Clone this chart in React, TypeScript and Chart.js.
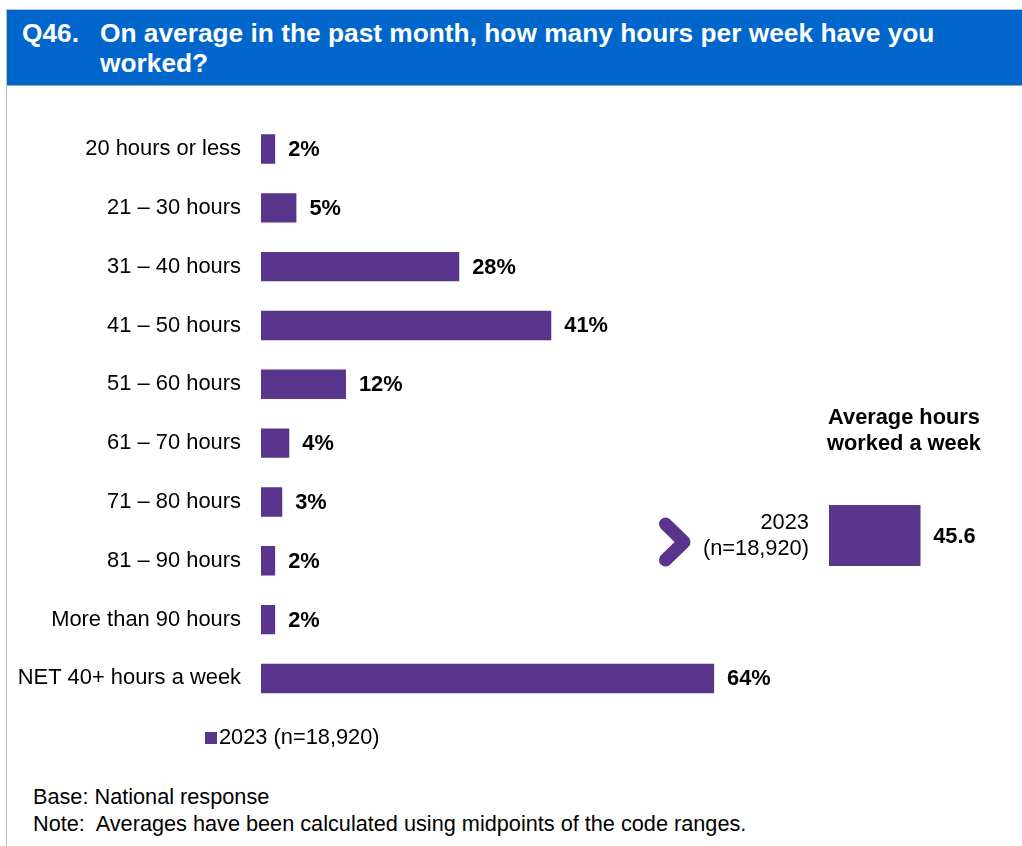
import React, { useEffect, useRef } from "react";
import { Chart, registerables } from "chart.js";

Chart.register(...registerables);

const categories = [
  "20 hours or less",
  "21 – 30 hours",
  "31 – 40 hours",
  "41 – 50 hours",
  "51 – 60 hours",
  "61 – 70 hours",
  "71 – 80 hours",
  "81 – 90 hours",
  "More than 90 hours",
  "NET 40+ hours a week",
];
const values2023 = [2, 5, 28, 41, 12, 4, 3, 2, 2, 64];
const seriesLabel = "2023 (n=18,920)";
const avgCategories = ["2023"];
const avgSampleLabel = "(n=18,920)";
const avgHours = [45.6];

const titleQ = "Q46.";
const titleLines = ["On average in the past month, how many hours per week have you", "worked?"];
const avgTitle = ["Average hours", "worked a week"];
const footerLines = ["Base: National response", "Note:  Averages have been calculated using midpoints of the code ranges."];

const PURPLE = "#58358A";
const FONT = '"Liberation Sans", Arial, Helvetica, sans-serif';

const valueLabelPlugin = (fmt: (v: number) => string) => ({
  id: "valueLabels",
  afterDatasetsDraw(chart: any) {
    const ctx = chart.ctx;
    ctx.save();
    ctx.font = `bold 21.8px ${FONT}`;
    ctx.fillStyle = "#000";
    ctx.textAlign = "left";
    ctx.textBaseline = "middle";
    chart.data.datasets.forEach((ds: any, di: number) => {
      const meta = chart.getDatasetMeta(di);
      meta.data.forEach((bar: any, i: number) => {
        ctx.fillText(fmt(ds.data[i]), bar.x + 13, bar.y + 1);
      });
    });
    ctx.restore();
  },
});

export default function App() {
  const mainRef = useRef<HTMLCanvasElement>(null);
  const avgRef = useRef<HTMLCanvasElement>(null);

  useEffect(() => {
    const main = new Chart(mainRef.current!, {
      type: "bar",
      data: {
        labels: categories,
        datasets: [
          {
            label: seriesLabel,
            data: values2023,
            backgroundColor: PURPLE,
            borderWidth: 0,
            categoryPercentage: 1,
            barPercentage: 0.5,
          },
        ],
      },
      options: {
        indexAxis: "y",
        responsive: false,
        animation: false,
        devicePixelRatio: 1,
        layout: { padding: { top: 119.6, bottom: 0, right: 53, left: 0 } },
        plugins: { legend: { display: false }, tooltip: { enabled: false } },
        scales: {
          x: {
            display: false,
            min: 0,
            max: 100,
          },
          y: {
            grid: { display: false, drawTicks: false },
            border: { display: false },
            ticks: {
              color: "#000",
              padding: 20,
              font: { family: FONT, size: 21.9 },
            },
            afterFit(scale: any) {
              scale.width = 261;
            },
          },
        },
      },
      plugins: [valueLabelPlugin((v) => `${v}%`)],
    });

    const avg = new Chart(avgRef.current!, {
      type: "bar",
      data: {
        labels: avgCategories,
        datasets: [
          {
            label: seriesLabel,
            data: avgHours,
            backgroundColor: PURPLE,
            borderWidth: 0,
            categoryPercentage: 1,
            barPercentage: 1,
          },
        ],
      },
      options: {
        indexAxis: "y",
        responsive: false,
        animation: false,
        devicePixelRatio: 1,
        layout: { padding: 0 },
        plugins: { legend: { display: false }, tooltip: { enabled: false } },
        scales: {
          x: { display: false, min: 0, max: 85 },
          y: { display: false },
        },
      },
      plugins: [valueLabelPlugin((v) => v.toFixed(1))],
    });

    return () => {
      main.destroy();
      avg.destroy();
    };
  }, []);

  const abs = (s: React.CSSProperties): React.CSSProperties => ({ position: "absolute", ...s });

  return (
    <div
      style={{
        position: "absolute",
        left: 0,
        top: 0,
        width: 1022,
        height: 846,
        background: "#fff",
        fontFamily: FONT,
        color: "#000",
        overflow: "hidden",
      }}
    >
      {/* frame */}
      <div style={abs({ left: 6, top: 9, width: 1016, height: 837, borderLeft: "1px solid #BFBFBF", borderTop: "1px solid #BFBFBF" })} />
      {/* header */}
      <div style={abs({ left: 7, top: 10, width: 1015, height: 75, background: "#0066CC", borderBottom: "1px solid #A6A6A6" })} />
      <div style={abs({ left: 22, top: 18, fontSize: 26.3, fontWeight: "bold", color: "#fff", lineHeight: "30px", whiteSpace: "nowrap" })}>
        {titleQ}
      </div>
      <div style={abs({ left: 100, top: 18, fontSize: 26.3, fontWeight: "bold", color: "#fff", lineHeight: "30px", whiteSpace: "nowrap" })}>
        {titleLines.map((l, i) => (
          <div key={i}>{l}</div>
        ))}
      </div>

      {/* main chart */}
      <canvas ref={mainRef} width={1022} height={741} style={abs({ left: 0, top: 0, width: 1022, height: 741 })} />

      {/* legend */}
      <div style={abs({ left: 205, top: 732, width: 12, height: 12, background: PURPLE })} />
      <div style={abs({ left: 219, top: 724, fontSize: 21.8, lineHeight: "26px", whiteSpace: "nowrap" })}>{seriesLabel}</div>

      {/* average panel */}
      <div style={abs({ left: 804, top: 404, width: 200, textAlign: "center", fontSize: 21.8, fontWeight: "bold", lineHeight: "26px" })}>
        {avgTitle.map((l, i) => (
          <div key={i}>{l}</div>
        ))}
      </div>
      <div style={abs({ left: 690, top: 509, width: 119, textAlign: "right", fontSize: 21.8, lineHeight: "26px", whiteSpace: "nowrap" })}>
        <div>{avgCategories[0]}</div>
        <div>{avgSampleLabel}</div>
      </div>
      <svg width={40} height={60} style={abs({ left: 655, top: 512 })}>
        <polyline
          points="10.5,12 29,30 10.5,48"
          fill="none"
          stroke={PURPLE}
          strokeWidth={13}
          strokeLinecap="round"
          strokeLinejoin="round"
        />
      </svg>
      <canvas ref={avgRef} width={170} height={61} style={abs({ left: 829, top: 505, width: 170, height: 61 })} />

      {/* footer */}
      <div style={abs({ left: 33, top: 783, fontSize: 21.7, lineHeight: "27px", whiteSpace: "pre" })}>
        {footerLines.map((l, i) => (
          <div key={i}>{l}</div>
        ))}
      </div>
    </div>
  );
}
